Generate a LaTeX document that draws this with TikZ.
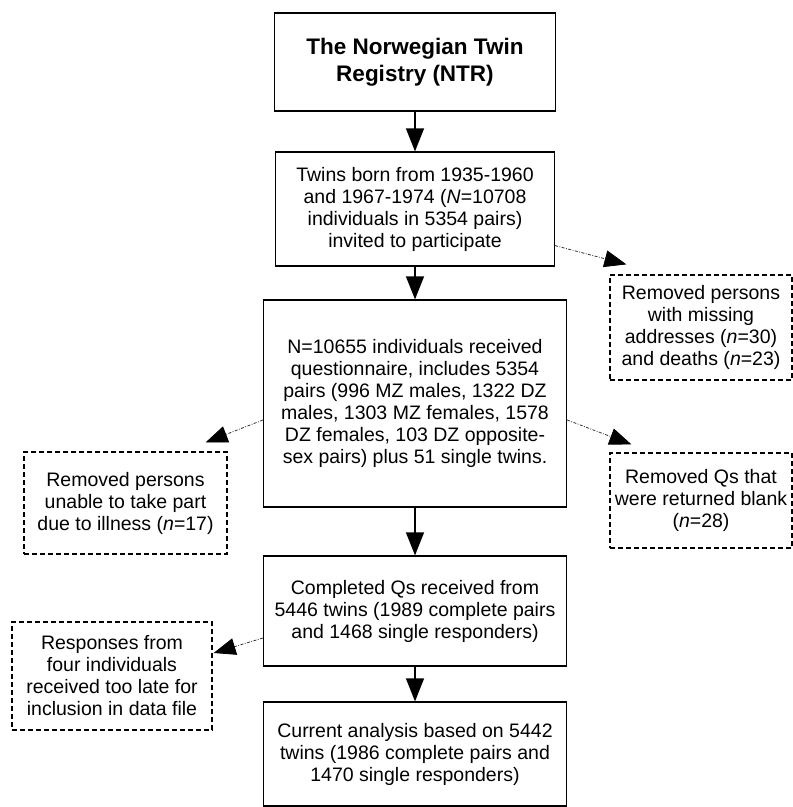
\documentclass[tikz,border=0pt]{standalone}
\usepackage{fontspec}
\setmainfont{Liberation Sans}
\usetikzlibrary{arrows.meta}

\begin{document}
\begin{tikzpicture}[x=1pt, y=-1pt,
            flow box/.style={draw, line width=1.2pt, align=center, inner sep=2pt, font=\fontsize{19.5pt}{22pt}\selectfont},
            side box/.style={flow box, dash pattern=on 5pt off 3pt},
            main arrow/.style={line width=1.2pt, -{Triangle[length=23pt,width=18pt]}},
            side arrow/.style={line width=0.8pt, black!80, dash pattern=on 3pt off 1.5pt on 0.8pt off 1.5pt, -{Triangle[length=22pt,width=17pt,color=black]}},
            ]
            \useasboundingbox (0,0) rectangle (793,807);
            \def\X{415}

            % main column
            \node[flow box, minimum width=281pt, minimum height=98pt, font=\fontsize{22.5pt}{27pt}\selectfont\bfseries] (ntr) at (\X,62) {The Norwegian Twin\\Registry (NTR)};
            \node[flow box, minimum width=279pt, minimum height=114pt] (invited) at (\X,209) {Twins born from 1935-1960\\and 1967-1974 (\textit{N}=10708\\individuals in 5354 pairs)\\invited to participate};
            \node[flow box, minimum width=303pt, minimum height=207pt] (received) at (\X,403.5) {N=10655 individuals received\\questionnaire, includes 5354\\pairs (996 MZ males, 1322 DZ\\males, 1303 MZ females, 1578\\DZ females, 103 DZ opposite-\\sex pairs) plus 51 single twins.};
            \node[flow box, minimum width=303pt, minimum height=110pt] (completed) at (\X,611) {Completed Qs received from\\5446 twins (1989 complete pairs\\and 1468 single responders)};
            \node[flow box, minimum width=303pt, minimum height=104pt] (analysis) at (\X,754) {Current analysis based on 5442\\twins (1986 complete pairs and\\1470 single responders)};

            % removed
            \node[side box, minimum width=182pt, minimum height=105pt] (missing) at (701,327.5) {Removed persons\\with missing\\addresses (\textit{n}=30)\\and deaths (\textit{n}=23)};
            \node[side box, minimum width=203pt, minimum height=102pt] (illness) at (125.5,503) {Removed persons\\unable to take part\\due to illness (\textit{n}=17)};
            \node[side box, minimum width=182pt, minimum height=95pt] (blank) at (701,500.5) {Removed Qs that\\were returned blank\\(\textit{n}=28)};
            \node[side box, minimum width=200pt, minimum height=108pt] (late) at (112,676) {Responses from\\four individuals\\received too late for\\inclusion in data file};

            \coordinate (missing tip) at ([xshift=17pt,yshift=10pt]missing.north west);
            \coordinate (illness tip) at ([xshift=-22pt,yshift=9pt]illness.north east);
            \coordinate (blank tip) at ([xshift=22pt,yshift=8pt]blank.north west);
            \coordinate (late tip) at ([xshift=1pt,yshift=23pt]late.east);

            \draw[main arrow] (ntr) -- (invited);
            \draw[main arrow] (invited) -- (received);
            \draw[main arrow] (received) -- (completed);
            \draw[main arrow] (completed) -- (analysis);

            \draw[side arrow] ([yshift=21pt]invited.south east) -- (missing tip);
            \draw[side arrow] ([yshift=-16.5pt]received.west) -- (illness tip);
            \draw[side arrow] ([yshift=-16.5pt]received.east) -- (blank tip);
            \draw[side arrow] ([yshift=-27pt]completed.west) -- (late tip);
        \end{tikzpicture}
\end{document}
